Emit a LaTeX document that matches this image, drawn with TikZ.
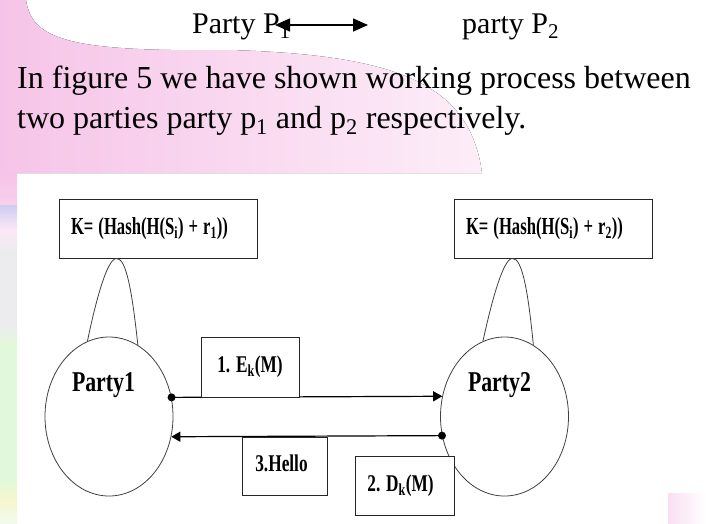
\documentclass[tikz,border=0pt]{standalone}
\usepackage{fontspec}
\setmainfont{Liberation Serif}
\newfontfamily\bodyfont{Liberation Serif}
\newfontfamily\condfont[FakeStretch=0.72]{Liberation Serif}
\newfontfamily\kfont[FakeStretch=0.68]{Liberation Serif}
\newfontfamily\partyfont[FakeStretch=0.76]{Liberation Serif}
\usetikzlibrary{shapes.geometric,arrows.meta}
\definecolor{wmpink}{RGB}{246,196,232}
\definecolor{wmblue}{RGB}{205,205,242}
\definecolor{wmgrey}{RGB}{236,236,238}
\definecolor{wmgreen}{RGB}{226,248,218}
\definecolor{wmyellow}{RGB}{246,246,205}
\tikzset{
  toptext/.style={inner sep=0pt, anchor=base west, font=\bodyfont\fontsize{30}{36}\selectfont},
  para/.style={inner sep=0pt, anchor=base west, font=\bodyfont\fontsize{32}{38}\selectfont},
  kbox/.style={draw=black!85, fill=white, line width=1pt, minimum width=198pt, minimum height=59pt,
    text width=174pt, align=left, inner xsep=12pt, inner ysep=0pt,
    font=\kfont\bfseries\fontsize{24.5}{28}\selectfont},
  mbox/.style={draw=black!85, fill=white, line width=1pt, inner sep=0pt,
    font=\condfont\bfseries\fontsize{24}{28}\selectfont},
  party/.style={ellipse, draw=black!75, line width=0.8pt, minimum width=128pt, minimum height=159pt, inner sep=0pt},
  plabel/.style={inner sep=0pt, font=\partyfont\bfseries\fontsize{28.7}{32}\selectfont},
  cone/.style={draw=black!75, line width=0.8pt},
  msg/.style={line width=1.2pt, -{Triangle[length=9pt,width=10pt]}},
  dbl/.style={line width=1.6pt, {Triangle[length=15pt,width=13pt]}-{Triangle[length=15pt,width=13pt]}},
}
\begin{document}
\begin{tikzpicture}[x=1pt,y=-1pt]
\useasboundingbox (0,0) rectangle (706,523);
% watermark background
\fill[left color=wmpink, right color=wmpink!30] (0,0) -- (26,0) .. controls (32,40) and (70,52) .. (230,50)
  .. controls (400,55) and (470,85) .. (482,173) -- (0,173) -- cycle;
\fill[top color=wmpink, bottom color=wmpink!80] (0,173) rectangle (17,205);
\fill[top color=wmblue, bottom color=wmpink!40] (0,205) rectangle (17,230);
\fill[top color=wmpink!40, bottom color=wmgrey] (0,230) rectangle (17,250);
\fill[wmgrey] (0,250) rectangle (17,325);
\fill[top color=wmgrey, bottom color=wmgreen] (0,325) rectangle (17,345);
\fill[wmgreen] (0,345) rectangle (17,480);
\fill[top color=wmgreen, bottom color=wmyellow] (0,480) rectangle (17,500);
\fill[top color=wmyellow, bottom color=wmgreen!50] (0,500) rectangle (17,523);
\fill[left color=wmpink!55, right color=white] (668,493) rectangle (706,523);

% top line
\node[toptext] (tp1) at (192,33) {Party P\textsubscript{1}};
\node[toptext] (tp2) at (462,33) {party P\textsubscript{2}};
\coordinate (ta) at (275,25);
\coordinate (tb) at (368,25);
\draw[dbl] (ta) -- (tb);

% paragraph
\node[para] (l1) at (17,88) {In figure 5 we have shown working process between};
\node[para] (l2) at (17,128) {two parties party p\textsubscript{1} and p\textsubscript{2} respectively.};

% key boxes
\node[kbox] (k1) at (158,228.5) {\raisebox{3pt}{K=\kern5pt(Hash(H(S\textsubscript{i})\kern5pt+\kern5pt r\textsubscript{1}))}};
\node[kbox] (k2) at (553,228.5) {\raisebox{3pt}{K=\kern5pt(Hash(H(S\textsubscript{i})\kern5pt+\kern5pt r\textsubscript{2}))}};

% parties
\node[party] (p1) at (109,416.5) {};
\node[party] (p2) at (504.5,416.5) {};
\node[plabel] (p1t) at (103.5,385) {Party1};
\node[plabel] (p2t) at (499.5,385) {Party2};

% cones
\coordinate (a1) at ([xshift=58pt]k1.south west);
\coordinate (a2) at ([xshift=59pt]k2.south west);
\draw[cone] (p1.106) .. controls (97,295) and (108,258) .. (a1) .. controls (126,258) and (132,290) .. (p1.68);
\draw[cone] (p2.106) .. controls (493,295) and (504,258) .. (a2) .. controls (522,258) and (528,290) .. (p2.68);

% messages
\fill (p1.17.5) circle (4pt);
\draw[msg] (p1.17.5) -- (p2.162.5);
\fill (p2.197.8) circle (4pt);
\draw[msg] (p2.197.8) -- (p1.342.2);

% message boxes
\node[mbox, minimum width=98pt, minimum height=60pt] (e) at (250,367) {\raisebox{4pt}{1. E\textsubscript{k}(M)}};
\node[mbox, minimum width=85pt, minimum height=58pt] (h) at (284.5,466) {\raisebox{6pt}{3.Hello\kern6pt}};
\node[mbox, minimum width=99pt, minimum height=59pt] (d) at (404.5,485.5) {\raisebox{3pt}{2. D\textsubscript{k}(M)\kern8pt}};
\end{tikzpicture}
\end{document}
